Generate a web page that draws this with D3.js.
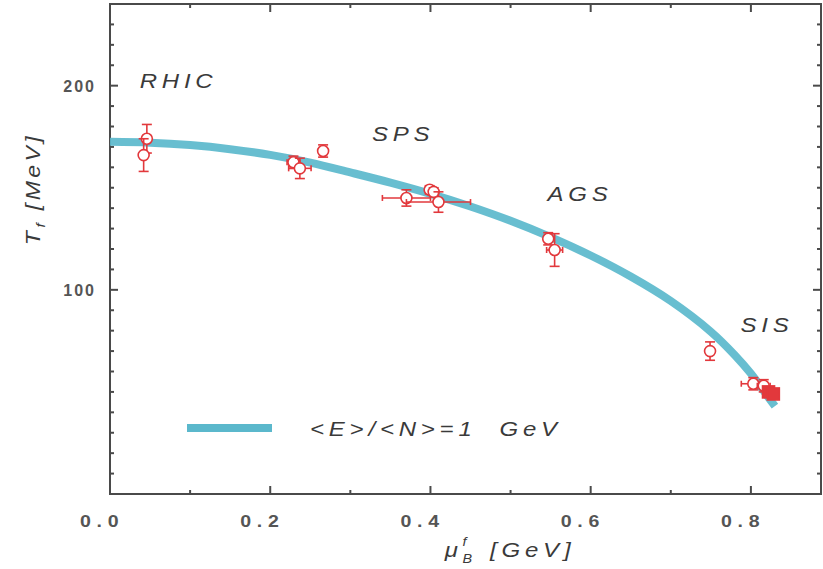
<!DOCTYPE html>
<html><head><meta charset="utf-8">
<script src="https://cdn.jsdelivr.net/npm/d3@7"></script>
<style>body{margin:0;background:#fff;} svg{display:block;}</style>
</head><body>
<svg id="c" width="823" height="569"></svg>
<script>
// ---- data ----
const xTicks = [0.0, 0.2, 0.4, 0.6, 0.8];
const xTickLabels = ["0.0", "0.2", "0.4", "0.6", "0.8"];
const yTicks = [100, 200];
const yTickLabels = ["100", "200"];

// <E>/<N> = 1 GeV freeze-out curve
const curveMu = [0.00, 0.05, 0.10, 0.15, 0.20, 0.25, 0.30, 0.35, 0.40, 0.45, 0.50, 0.55, 0.60, 0.65, 0.70, 0.75, 0.78, 0.80, 0.815, 0.83];
const curveT  = [172.5, 172.1, 170.9, 168.9, 166.1, 162.3, 157.5, 152.5, 147, 140.8, 133.8, 125.8, 116.8, 106.5, 94.5, 79.5, 68, 59, 51, 43];

// experimental points
const ptMu   = [0.046, 0.042, 0.229, 0.237, 0.266, 0.370, 0.399, 0.404, 0.410, 0.547, 0.555, 0.749, 0.803, 0.816, 0.822, 0.828];
const ptT    = [174, 166, 162.5, 159.5, 168, 145, 149, 148, 143, 125, 119.5, 70, 54, 53, 50, 49];
const ptXErr = [0, 0, 0.008, 0.014, 0.004, 0.03, 0.004, 0.004, 0.04, 0.005, 0.01, 0.003, 0.015, 0.008, 0, 0];
const ptYErr = [7, 8, 3, 5, 3, 4, 2, 2, 5, 3, 8, 4.5, 3, 3, 0, 0];
const ptFilled = [false, false, false, false, false, false, false, false, false, false, false, false, false, false, true, true];

const regionNames = ["RHIC", "SPS", "AGS", "SIS"];
const regionMu = [0.037, 0.327, 0.546, 0.787];
const regionT  = [199, 173, 143.5, 79.5];

const legendLabel = "<E>/<N>=1  GeV";

// ---- drawing ----
const svg = d3.select("#c");
const L = 110, R = 821, T = 4, B = 494;
const x = d3.scaleLinear().domain([0, 0.8875]).range([L, R]);
const y = d3.scaleLinear().domain([0, 240]).range([B, T]);

const axisCol = "#4a4a4a";
const red = "#e2383c";
const blue = "#5bb8cc";
const textCol = "#3a3a3a";
const FONT = "Liberation Sans, Arial, sans-serif";

// frame
svg.append("rect").attr("x", L).attr("y", T).attr("width", R - L).attr("height", B - T)
  .attr("fill", "none").attr("stroke", axisCol).attr("stroke-width", 2);

// ticks
const g = svg.append("g");
d3.range(0, 0.89, 0.1).forEach(v => {
  const major = Math.abs(Math.round(v * 10) % 2) === 0;
  const len = major ? 8 : 4;
  g.append("line").attr("x1", x(v)).attr("x2", x(v)).attr("y1", B).attr("y2", B - len).attr("stroke", axisCol).attr("stroke-width", 2);
  g.append("line").attr("x1", x(v)).attr("x2", x(v)).attr("y1", T).attr("y2", T + len).attr("stroke", axisCol).attr("stroke-width", 2);
});
d3.range(10, 240, 10).forEach(v => {
  const major = v % 100 === 0;
  const len = major ? 8 : 4;
  g.append("line").attr("x1", L).attr("x2", L + len).attr("y1", y(v)).attr("y2", y(v)).attr("stroke", axisCol).attr("stroke-width", 2);
  g.append("line").attr("x1", R).attr("x2", R - len).attr("y1", y(v)).attr("y2", y(v)).attr("stroke", axisCol).attr("stroke-width", 2);
});

// scaled (wide) text helper
function wideText(px, py, opts) {
  return svg.append("text")
    .attr("transform", `translate(${px},${py}) scale(${opts.sx || 1.2},1)`)
    .attr("font-family", FONT).attr("font-size", opts.size || 20)
    .attr("font-style", opts.italic ? "italic" : "normal")
    .attr("font-weight", opts.bold ? "bold" : "normal")
    .attr("letter-spacing", opts.ls || 0)
    .attr("text-anchor", opts.anchor || "start")
    .attr("fill", opts.fill || textCol);
}

// tick labels
xTicks.forEach((v, i) => {
  wideText(x(v) - 30, 527, {size: 17, bold: true, ls: 5, fill: "#555", sx: 1.15}).text(xTickLabels[i]);
});
yTicks.forEach((v, i) => {
  svg.append("text").attr("x", 96).attr("y", y(v) + 6).attr("text-anchor", "end")
    .attr("font-family", FONT).attr("font-size", 16).attr("font-weight", "bold")
    .attr("letter-spacing", 2).attr("fill", "#555").text(yTickLabels[i]);
});

// axis titles
const yl = svg.append("text").attr("transform", "translate(40,189) rotate(-90) scale(1.15,1)").attr("text-anchor", "middle")
  .attr("font-family", FONT).attr("font-size", 20).attr("font-style", "italic")
  .attr("letter-spacing", 3).attr("fill", textCol);
yl.append("tspan").text("T");
yl.append("tspan").attr("font-size", 13).attr("dy", 5).text("f");
yl.append("tspan").attr("dy", -5).text(" [MeV]");

const xl = wideText(510, 557, {size: 20, italic: true, ls: 4, anchor: "middle", sx: 1.2});
xl.append("tspan").text("μ");
xl.append("tspan").attr("font-size", 12).attr("dy", 6).text("B");
xl.append("tspan").attr("font-size", 12).attr("dx", -12).attr("dy", -17).text("f");
xl.append("tspan").attr("dy", 11).attr("dx", 6).text(" [GeV]");

// curve
const line = d3.line().x((d, i) => x(curveMu[i])).y((d, i) => y(curveT[i])).curve(d3.curveCatmullRom.alpha(0.5));
svg.append("path").datum(curveMu).attr("d", line).attr("fill", "none").attr("stroke", blue)
  .attr("stroke-width", 8).attr("opacity", 0.92);

// points
const pg = svg.append("g").attr("stroke", red).attr("stroke-width", 1.6).attr("fill", "none");
ptMu.forEach((m, i) => {
  const cx = x(m), cy = y(ptT[i]);
  if (ptYErr[i] > 0) {
    const y1 = y(ptT[i] + ptYErr[i]), y2 = y(ptT[i] - ptYErr[i]);
    pg.append("line").attr("x1", cx).attr("x2", cx).attr("y1", y1).attr("y2", y2);
    pg.append("line").attr("x1", cx - 5).attr("x2", cx + 5).attr("y1", y1).attr("y2", y1);
    pg.append("line").attr("x1", cx - 5).attr("x2", cx + 5).attr("y1", y2).attr("y2", y2);
  }
  if (ptXErr[i] > 0) {
    const x1 = x(m - ptXErr[i]), x2 = x(m + ptXErr[i]);
    pg.append("line").attr("x1", x1).attr("x2", x2).attr("y1", cy).attr("y2", cy);
    pg.append("line").attr("x1", x1).attr("x2", x1).attr("y1", cy - 3).attr("y2", cy + 3);
    pg.append("line").attr("x1", x2).attr("x2", x2).attr("y1", cy - 3).attr("y2", cy + 3);
  }
  if (ptFilled[i]) {
    pg.append("rect").attr("x", cx - 6).attr("y", cy - 6).attr("width", 12).attr("height", 12).attr("fill", red);
  } else {
    pg.append("circle").attr("cx", cx).attr("cy", cy).attr("r", 5.5).attr("fill", "#fff");
  }
});

// region labels
regionNames.forEach((n, i) => {
  wideText(x(regionMu[i]), y(regionT[i]), {size: 20, italic: true, ls: 4, sx: 1.2}).text(n);
});

// legend
svg.append("line").attr("x1", 187).attr("x2", 272).attr("y1", 428).attr("y2", 428)
  .attr("stroke", blue).attr("stroke-width", 8);
wideText(310, 436, {size: 20, italic: true, ls: 4, sx: 1.2})
  .attr("xml:space", "preserve").style("white-space", "pre").text(legendLabel);
</script>
</body></html>
